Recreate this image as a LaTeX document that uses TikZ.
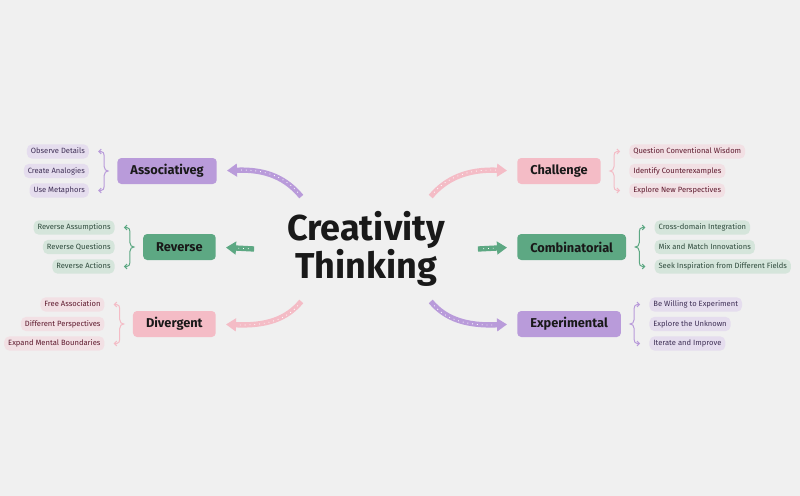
\documentclass[tikz,border=0pt]{standalone}
\usepackage{fontspec}
\setmainfont{Fira Sans}
\usetikzlibrary{arrows.meta,positioning,calc,shapes.geometric}
\definecolor{bgGrey}{HTML}{F0F0F0}
\definecolor{purpM}{HTML}{B99BDA}
\definecolor{purpL}{HTML}{E5DDEE}
\definecolor{purpT}{HTML}{3E2F55}
\definecolor{greenM}{HTML}{5DA883}
\definecolor{greenL}{HTML}{D5E5DB}
\definecolor{greenT}{HTML}{2F4B3D}
\definecolor{pinkM}{HTML}{F4BCC6}
\definecolor{pinkL}{HTML}{F2E0E4}
\definecolor{pinkT}{HTML}{5E1A2E}

\begin{document}
\begin{tikzpicture}[
    x=0.75pt, y=-0.75pt,
    hub/.style={ellipse, minimum width=154.5pt, minimum height=96pt, inner sep=0pt, align=center, font=\fontsize{27}{29}\selectfont\bfseries, text=black!90},
    topic/.style={rounded corners=3pt, minimum height=19.5pt, inner xsep=9.8pt, inner ysep=0pt, font=\fontsize{9.6}{11}\selectfont\bfseries, text=black!90},
    leaf/.style={rounded corners=4pt, minimum height=10.8pt, inner xsep=3pt, inner ysep=0pt, text height=4.3pt, text depth=1.3pt, font=\fontsize{5.7}{7}\selectfont},
    topicP/.style={topic, fill=purpM}, topicG/.style={topic, fill=greenM}, topicR/.style={topic, fill=pinkM},
    leafP/.style={leaf, fill=purpL, text=purpT}, leafG/.style={leaf, fill=greenL, text=greenT}, leafR/.style={leaf, fill=pinkL, text=pinkT},
    flow/.style={line width=4pt, -{Triangle[length=7.5pt,width=9.5pt]}, shorten >=7.5pt,
        postaction={draw=white, line width=0.6pt, dash pattern=on 0.6pt off 3pt, arrows=-, shorten >=16pt, shorten <=4pt}},
    leafbrace/.style={line width=0.75pt, {Straight Barb[length=1.8pt,width=3.6pt]}-{Straight Barb[length=1.8pt,width=3.6pt]}}
]
\useasboundingbox (0,0) rectangle (800,496);
\fill[bgGrey] (0,0) rectangle (800,496);

\node[hub] (hub) at (366,249) {Creativity\\Thinking};

% left topics
\node[topicP, anchor=east] (as) at (217,171) {Associativeg};
\node[topicG, anchor=east] (rv) at (216,247) {Reverse};
\node[topicR, anchor=east] (dv) at (216,324) {Divergent};

% right topics
\node[topicR, anchor=west] (ch) at (517,171) {Challenge};
\node[topicG, anchor=west] (cb) at (517,247) {Combinatorial};
\node[topicP, anchor=west] (ex) at (517,324) {Experimental};

% leaves
\node[leafP, left=21pt of as] (as2) {Create Analogies};
\node[leafP, anchor=east] (as1) at ($(as2.east)+(0,-19.5)$) {Observe Details};
\node[leafP, anchor=east] (as3) at ($(as2.east)+(0,19.5)$) {Use Metaphors};

\node[leafG, left=21pt of rv] (rv2) {Reverse Questions};
\node[leafG, anchor=east] (rv1) at ($(rv2.east)+(0,-19.5)$) {Reverse Assumptions};
\node[leafG, anchor=east] (rv3) at ($(rv2.east)+(0,19.5)$) {Reverse Actions};

\node[leafR, left=21pt of dv] (dv2) {Different Perspectives};
\node[leafR, anchor=east] (dv1) at ($(dv2.east)+(0,-19.5)$) {Free Association};
\node[leafR, anchor=east] (dv3) at ($(dv2.east)+(0,19.5)$) {Expand Mental Boundaries};

\node[leafR, right=21pt of ch] (ch2) {Identify Counterexamples};
\node[leafR, anchor=west] (ch1) at ($(ch2.west)+(0,-19.5)$) {Question Conventional Wisdom};
\node[leafR, anchor=west] (ch3) at ($(ch2.west)+(0,19.5)$) {Explore New Perspectives};

\node[leafG, right=21pt of cb] (cb2) {Mix and Match Innovations};
\node[leafG, anchor=west] (cb1) at ($(cb2.west)+(0,-19.5)$) {Cross-domain Integration};
\node[leafG, anchor=west] (cb3) at ($(cb2.west)+(0,19.5)$) {Seek Inspiration from Different Fields};

\node[leafP, right=21pt of ex] (ex2) {Explore the Unknown};
\node[leafP, anchor=west] (ex1) at ($(ex2.west)+(0,-19.5)$) {Be Willing to Experiment};
\node[leafP, anchor=west] (ex3) at ($(ex2.west)+(0,19.5)$) {Iterate and Improve};

% arrows from the hub
\draw[flow, purpM] (hub.141) .. controls +(-15,-18) and +(50,-2) .. (as.east);
\draw[flow, greenM] (hub.west) -- (rv.east);
\draw[flow, pinkM] (hub.219) .. controls +(-15,18) and +(50,2) .. (dv.east);
\draw[flow, pinkM] (hub.39) .. controls +(15,-18) and +(-50,-2) .. (ch.west);
\draw[flow, greenM] (hub.east) -- (cb.west);
\draw[flow, purpM] (hub.-39) .. controls +(15,18) and +(-50,2) .. (ex.west);

% braces to the leaves
\foreach \g/\a/\s/\m/\c in {as/east/1/-1/purpM, rv/east/1/-1/greenM, dv/east/1/-1/pinkM,
                            ch/west/-1/1/pinkM, cb/west/-1/1/greenM, ex/west/-1/1/purpM}
  \draw[leafbrace, \c] ($(\g1.\a)+(\s*9,0)$) -- ++(\s*3,0)
    .. controls +(\s*2,0) and +(0,-2) .. ++(\s*3,4) -- ++(0,11)
    .. controls +(0,3) and +(\m*2,0) .. ++(\s*4,4.5)
    .. controls +(\m*2,0) and +(0,-3) .. ++(\m*4,4.5) -- ++(0,11)
    .. controls +(0,2) and +(\s*2,0) .. ++(\m*3,4) -- ++(\m*3,0);

\end{tikzpicture}
\end{document}
